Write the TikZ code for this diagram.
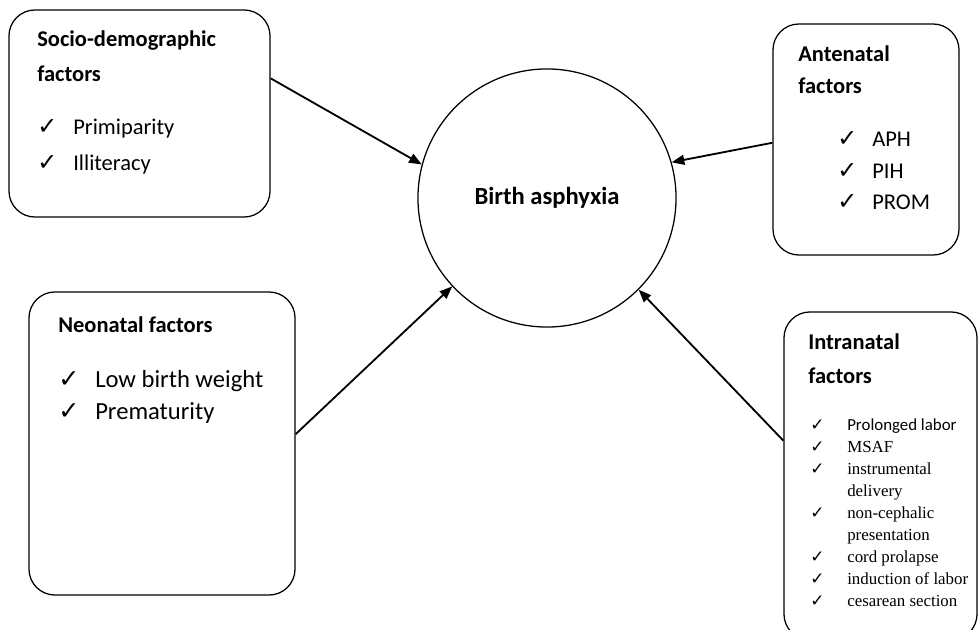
\documentclass[tikz,border=0pt]{standalone}
\usepackage{fontspec}
\setmainfont{Carlito}
\newfontfamily\timesfont{Liberation Serif}
\newfontfamily\tickfont{DejaVu Sans}
\usetikzlibrary{arrows.meta}

\newcommand{\tick}[1]{{\tickfont\bfseries\fontsize{#1}{#1}\selectfont ✓}}

\tikzset{
	box/.style = {draw, rounded corners = 0.65cm, line width = 0.9pt},
	txt/.style = {anchor = base west, inner sep = 0pt},
	arr/.style = {-{Triangle[length = 9pt, width = 7pt]}, line width = 1.3pt},
}

\begin{document}
\begin{tikzpicture}[x = 0.025cm, y = -0.025cm]
				\clip (0,0) rectangle (980,630);
				
				\node[draw, circle, line width = 0.9pt, minimum size = 6.45cm, font = \bfseries\fontsize{17.5}{20}\selectfont] (asph) at (547,198) {Birth asphyxia\hspace{0.35cm}};
				
				\node[box, minimum width = 6.525cm, minimum height = 5.175cm] (socio) at (139.5,113.5) {};
				\node[box, minimum width = 4.65cm, minimum height = 5.775cm] (ante) at (866,139.5) {};
				\node[box, minimum width = 6.65cm, minimum height = 7.575cm] (neo) at (162,443.5) {};
				\node[box, minimum width = 4.825cm, minimum height = 8.2cm] (intra) at (880.5,476) {};
				
				% headings
				\node[txt, font = \bfseries\fontsize{16}{24.2}\selectfont] (sociohead) at (37,47) {\begin{tabular}[t]{@{}l@{}}Socio-demographic\\ factors\end{tabular}};
				\node[txt, font = \bfseries\fontsize{16}{22.1}\selectfont] (antehead) at (798,62) {\begin{tabular}[t]{@{}l@{}}Antenatal\\ factors\end{tabular}};
				\node[txt, font = \bfseries\fontsize{16}{20}\selectfont] (neohead) at (58,332) {Neonatal factors};
				\node[txt, font = \bfseries\fontsize{16}{24.2}\selectfont] (intrahead) at (808,349) {\begin{tabular}[t]{@{}l@{}}Intranatal\\ factors\end{tabular}};
				
				% lists
				\node[txt, font = \fontsize{16}{24.9}\selectfont] (socioitems) at (37,135) {\begin{tabular}[t]{@{}p{25.6pt}@{}l@{}}
					\tick{17} & Primiparity\\
					\tick{17} & Illiteracy
				\end{tabular}};
				\node[txt, font = \fontsize{16}{22.4}\selectfont] (anteitems) at (837,147) {\begin{tabular}[t]{@{}p{24.9pt}@{}l@{}}
					\tick{17} & APH\\
					\tick{17} & PIH\\
					\tick{17} & PROM
				\end{tabular}};
				\node[txt, font = \fontsize{17.5}{22.8}\selectfont] (neoitems) at (58,387) {\begin{tabular}[t]{@{}p{26.3pt}@{}l@{}}
					\tick{18} & Low birth weight\\
					\tick{18} & Prematurity
				\end{tabular}};
				\node[txt, font = \fontsize{12}{15.65}\selectfont] (intraitems) at (810,430) {\begin{tabular}[t]{@{}p{26.3pt}@{}l@{}}
					\tick{12} & Prolonged labor\\
					\tick{12} & \timesfont MSAF\\
					\tick{12} & \timesfont instrumental\\
					& \timesfont delivery\\
					\tick{12} & \timesfont non-cephalic\\
					& \timesfont presentation\\
					\tick{12} & \timesfont cord prolapse\\
					\tick{12} & \timesfont induction of labor\\
					\tick{12} & \timesfont cesarean section
				\end{tabular}};
				
				\draw[arr] (socio.15.6) -- (asph.165);
				\draw[arr] (ante.182.8) -- (asph.16);
				\draw[arr] (neo.4.5) -- (asph.223.5);
				\draw[arr] (intra.160.6) -- (asph.315);
			\end{tikzpicture}
\end{document}
